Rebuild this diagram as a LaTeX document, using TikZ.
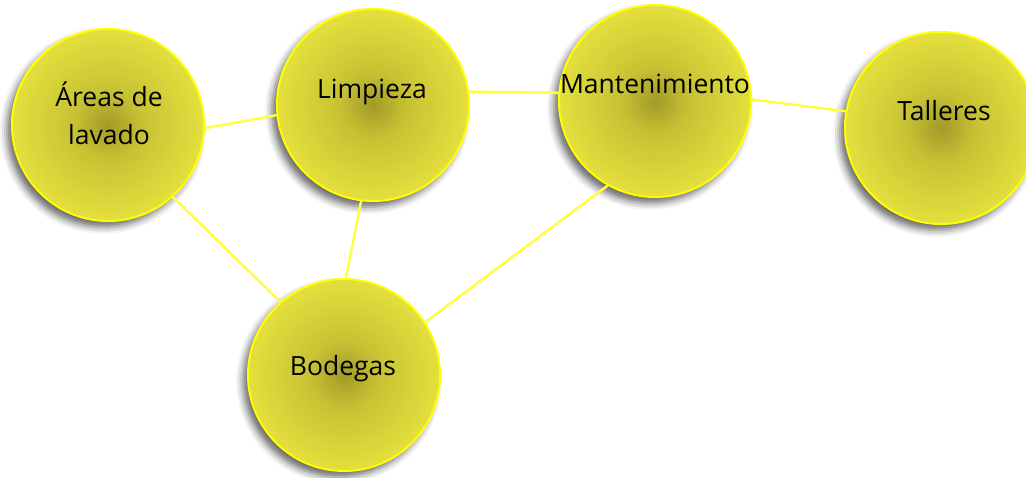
\documentclass[tikz,border=0pt]{standalone}
\usepackage{fontspec}
\setmainfont{Open Sans}
\usetikzlibrary{shadows.blur}
\definecolor{cdark}{HTML}{A29A28}
\definecolor{cmid}{HTML}{C8C234}
\definecolor{clight}{HTML}{EBE940}
\definecolor{crim}{HTML}{FFFF00}
\definecolor{cline}{HTML}{FFFF40}
\pgfdeclareradialshading{ballshade}{\pgfpoint{0bp}{0bp}}{color(0bp)=(cdark); color(9bp)=(cmid); color(30bp)=(clight); color(50bp)=(clight)}
\tikzset{
  ball/.style={circle, minimum size=192pt, inner sep=0pt, outer sep=0pt,
    draw=crim, line width=2pt, shading=ballshade,
    blur shadow={shadow xshift=-5pt, shadow yshift=-6pt, shadow blur radius=7pt, shadow opacity=60}},
  lbl/.style={font=\fontsize{26.5}{38}\selectfont, anchor=base, inner sep=0pt, align=center},
  link/.style={draw=cline, line width=2.4pt}
}
\begin{document}
\begin{tikzpicture}[x=1pt,y=-1pt]
\useasboundingbox (0,0) rectangle (1026,477);
\node[ball] (A) at (108,125) {};
\node[ball] (L) at (373,105) {};
\node[ball] (M) at (655,101) {};
\node[ball] (T) at (941,128) {};
\node[ball] (B) at (344,375) {};
\draw[link] (A.-2) -- (L.186);
\draw[link] (L.8) -- (M.175);
\draw[link] (M.1) -- (T.170);
\draw[link] (A.-48) -- (B.131);
\draw[link] (L.-97) -- (B.89);
\draw[link] (M.-119) -- (B.33);
\node[lbl] (tA1) at (109,106) {Áreas de};
\node[lbl] (tA2) at (109,144) {lavado};
\node[lbl] (tL) at (372,98) {Limpieza};
\node[lbl] (tM) at (655,93) {Mantenimiento};
\node[lbl] (tT) at (944,120) {Talleres};
\node[lbl] (tB) at (343,375) {Bodegas};
\end{tikzpicture}
\end{document}
